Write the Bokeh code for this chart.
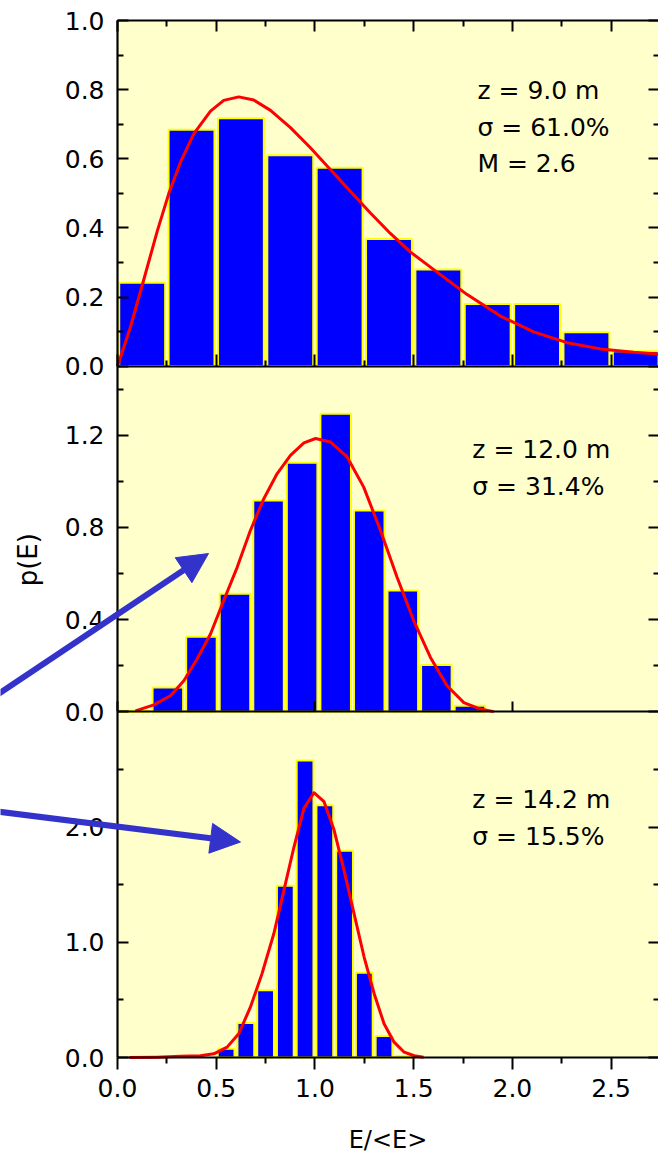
import math
from bokeh.plotting import figure
from bokeh.models import (Range1d, LinearAxis, FixedTicker, PrintfTickFormatter,
                          Label, Arrow, NormalHead, BoxAnnotation)
from bokeh.embed import file_html
from bokeh.resources import INLINE

# ---------------- data ----------------
# panel 1 : z = 9.0 m
bins1_left = [0.0, 0.25, 0.5, 0.75, 1.0, 1.25, 1.5, 1.75, 2.0, 2.25, 2.5]
bins1_height = [0.241, 0.684, 0.717, 0.61, 0.574, 0.368, 0.28, 0.18, 0.18, 0.098, 0.043]
bins1_width = 0.25
fit1_x = [0.0, 0.032, 0.066, 0.133, 0.201, 0.26, 0.319, 0.386, 0.471, 0.538, 0.614,
          0.69, 0.775, 0.876, 0.977, 1.078, 1.18, 1.281, 1.382, 1.484, 1.6, 1.771,
          1.939, 2.108, 2.277, 2.446, 2.615, 2.74]
fit1_y = [0.0, 0.055, 0.114, 0.25, 0.39, 0.5, 0.59, 0.672, 0.738, 0.769, 0.779,
          0.77, 0.74, 0.69, 0.632, 0.569, 0.505, 0.443, 0.384, 0.33, 0.28, 0.207,
          0.145, 0.099, 0.068, 0.05, 0.04, 0.035]

# panel 2 : z = 12.0 m
bins2_left = [0.0, 0.17, 0.34, 0.51, 0.68, 0.85, 1.02, 1.19, 1.36, 1.53, 1.70]
bins2_height = [0.005, 0.106, 0.326, 0.512, 0.917, 1.081, 1.294, 0.874, 0.526, 0.203, 0.026]
bins2_width = 0.17
fit2_x = [0.091, 0.184, 0.268, 0.336, 0.403, 0.471, 0.538, 0.606, 0.673, 0.741, 0.808,
          0.876, 0.944, 1.003, 1.078, 1.163, 1.247, 1.332, 1.416, 1.5, 1.585, 1.669,
          1.754, 1.838, 1.906]
fit2_y = [0.004, 0.03, 0.07, 0.135, 0.229, 0.338, 0.483, 0.627, 0.787, 0.925, 1.033,
          1.113, 1.167, 1.186, 1.171, 1.106, 0.975, 0.787, 0.584, 0.396, 0.236, 0.113,
          0.04, 0.012, 0.001]

# panel 3 : z = 14.2 m
bins3_left = [0.5, 0.6, 0.7, 0.8, 0.9, 1.0, 1.1, 1.2, 1.3, 1.4]
bins3_height = [0.076, 0.30, 0.583, 1.49, 2.577, 2.19, 1.794, 0.736, 0.186, 0.012]
bins3_width = 0.1
fit3_x = [0.06, 0.2, 0.319, 0.42, 0.488, 0.555, 0.614, 0.673, 0.732, 0.792, 0.843,
          0.894, 0.944, 0.995, 1.046, 1.097, 1.147, 1.198, 1.249, 1.3, 1.35, 1.401,
          1.452, 1.503, 1.55]
fit3_y = [0.0, 0.003, 0.01, 0.015, 0.032, 0.09, 0.206, 0.437, 0.728, 1.076, 1.452,
          1.829, 2.162, 2.298, 2.22, 1.974, 1.626, 1.249, 0.872, 0.554, 0.293, 0.133,
          0.046, 0.015, 0.003]

panel_texts = [
    ["z = 9.0 m", "\u03c3 = 61.0%", "M = 2.6"],
    ["z = 12.0 m", "\u03c3 = 31.4%"],
    ["z = 14.2 m", "\u03c3 = 15.5%"],
]

x_ticks = [0.0, 0.5, 1.0, 1.5, 2.0, 2.5]
x_minor = [0.25, 0.75, 1.25, 1.75, 2.25]
y1_ticks, y1_minor = [0.0, 0.2, 0.4, 0.6, 0.8, 1.0], [0.1, 0.3, 0.5, 0.7, 0.9]
y2_ticks, y2_minor = [0.0, 0.4, 0.8, 1.2], [0.2, 0.6, 1.0, 1.4]
y3_ticks, y3_minor = [0.0, 1.0, 2.0], [0.5, 1.5, 2.5]
panel_ymax = [1.0, 1.5, 3.0]

# ---------------- layout / styles ----------------
W, H = 658, 1152
LEFT, TOP, BOTTOM = 117, 20, 95          # pixel margins around the stacked panels
X_END = 2.74
FONT = "DejaVu Sans"
BG = "#ffffcc"
BAR_FILL = "#0000ff"
BAR_LINE = "#ffff00"
FIT = "#ff0000"
ARROW = "#3333cc"

panel_h = (H - TOP - BOTTOM) / 3.0
x_scale = (W - LEFT) / X_END
x_start = -LEFT / x_scale


def y_range_for(i):
    """Range whose 0..ymax fills panel i (0 = top) of the canvas."""
    ppu = panel_h / panel_ymax[i]
    y0_px = TOP + panel_h * (i + 1)       # pixel row of value 0 (from top)
    return Range1d(-(H - y0_px) / ppu, y0_px / ppu)


p = figure(width=W, height=H, x_range=Range1d(x_start, X_END), y_range=y_range_for(0),
           x_axis_location=None, y_axis_location=None, toolbar_location=None,
           output_backend="svg", min_border=0)
p.extra_y_ranges = {"p2": y_range_for(1), "p3": y_range_for(2)}
p.background_fill_color = "white"
p.border_fill_color = "white"
p.outline_line_color = None
p.grid.visible = False

# yellow plotting area behind the three panels
p.add_layout(BoxAnnotation(left=0, right=X_END, top=1.0, bottom=-2.0, fill_color=BG,
                           fill_alpha=1.0, line_color=None, level="underlay"))


def style_axis(ax, tin, tmin, labels=True):
    ax.axis_line_color = "black"
    ax.axis_line_width = 2.2
    ax.major_tick_in = tin
    ax.major_tick_out = 0
    ax.minor_tick_in = tmin
    ax.minor_tick_out = 0
    ax.major_tick_line_width = 2
    ax.minor_tick_line_width = 2
    ax.major_tick_line_color = "black"
    ax.minor_tick_line_color = "black"
    ax.major_label_text_font = FONT
    ax.major_label_text_font_size = "25px"
    ax.major_label_text_color = "black"
    if not labels:
        ax.major_label_overrides = {t: "" for t in ax.ticker.ticks}


# ---- bars and fits ----
panels = [
    ("default", bins1_left, bins1_height, bins1_width, 0.93, fit1_x, fit1_y),
    ("p2", bins2_left, bins2_height, bins2_width, 0.91, fit2_x, fit2_y),
    ("p3", bins3_left, bins3_height, bins3_width, 0.85, fit3_x, fit3_y),
]
for rname, left, h, bw, frac, fx, fy in panels:
    centers = [l + bw / 2 for l in left]
    p.vbar(x=centers, top=h, bottom=0, width=bw * frac, fill_color=BAR_FILL,
           line_color=BAR_LINE, line_width=2, y_range_name=rname)
    p.line(fx, fy, line_color=FIT, line_width=3, line_join="round",
           y_range_name=rname)

# ---- axes ----
specs = [
    ("default", y1_ticks, y1_minor, panel_ymax[0]),
    ("p2", y2_ticks, y2_minor, panel_ymax[1]),
    ("p3", y3_ticks, y3_minor, panel_ymax[2]),
]
for rname, yt, ym, ymax in specs:
    la = LinearAxis(y_range_name=rname, fixed_location=0.0, bounds=(0.0, ymax),
                    ticker=FixedTicker(ticks=yt, minor_ticks=ym),
                    formatter=PrintfTickFormatter(format="%.1f"))
    style_axis(la, 11, 6)
    la.major_label_standoff = 13
    p.add_layout(la, "left")

    ra = LinearAxis(y_range_name=rname, fixed_location=X_END, bounds=(0.0, ymax),
                    ticker=FixedTicker(ticks=yt, minor_ticks=ym))
    style_axis(ra, 10, 5, labels=False)
    ra.axis_line_alpha = 0
    p.add_layout(ra, "right")

# top axis of panel 1
ta = LinearAxis(fixed_location=1.0, bounds=(0.0, X_END),
                ticker=FixedTicker(ticks=x_ticks, minor_ticks=x_minor))
style_axis(ta, 11, 6, labels=False)
p.add_layout(ta, "above")

# bottom axis of panel 1
b1 = LinearAxis(fixed_location=0.0, bounds=(0.0, X_END),
                ticker=FixedTicker(ticks=x_ticks, minor_ticks=x_minor))
style_axis(b1, 12, 6, labels=False)
p.add_layout(b1, "below")

# bottom axis of panel 2
b2 = LinearAxis(y_range_name="p2", fixed_location=0.0, bounds=(0.0, X_END),
                ticker=FixedTicker(ticks=[0.0, 1.0, 2.0], minor_ticks=[]))
style_axis(b2, 10, 0, labels=False)
p.add_layout(b2, "below")

# bottom axis of panel 3 (labelled)
b3 = LinearAxis(y_range_name="p3", fixed_location=0.0, bounds=(0.0, X_END),
                ticker=FixedTicker(ticks=x_ticks, minor_ticks=x_minor),
                formatter=PrintfTickFormatter(format="%.1f"))
style_axis(b3, 0, 0)
b3.major_tick_out = 12
b3.minor_tick_out = 6
b3.major_label_standoff = 9
b3.axis_label = "E/<E>"
b3.axis_label_text_font = FONT
b3.axis_label_text_font_size = "24px"
b3.axis_label_text_font_style = "normal"
b3.axis_label_text_color = "black"
b3.axis_label_standoff = 26
p.add_layout(b3, "below")

# ---- texts ----
text_pos = [("default", 1.823, [0.797, 0.690, 0.586]),
            ("p2", 1.797, [1.138, 0.978]),
            ("p3", 1.797, [2.24, 1.92])]
for (rname, tx, tys), lines in zip(text_pos, panel_texts):
    for ty, t in zip(tys, lines):
        p.add_layout(Label(x=tx, y=ty, y_range_name=rname, text=t,
                           text_font=FONT, text_font_size="25px",
                           text_color="black", text_baseline="alphabetic"))

p.add_layout(Label(x=-0.455, y=0.66, y_range_name="p2", text="p(E)", angle=math.pi / 2,
                   text_font=FONT, text_font_size="26px", text_align="center",
                   text_baseline="middle", text_color="black"))

# ---- arrows ----
p.add_layout(Arrow(end=NormalHead(size=30, fill_color=ARROW, line_color=ARROW),
                   x_start=-0.65, y_start=0.051, x_end=0.461, y_end=0.687,
                   line_color=ARROW, line_width=6, y_range_name="p2"))
p.add_layout(Arrow(end=NormalHead(size=30, fill_color=ARROW, line_color=ARROW),
                   x_start=-0.648, y_start=2.143, x_end=0.623, y_end=1.870,
                   line_color=ARROW, line_width=6, y_range_name="p3"))

open("out.html", "w").write(file_html(p, INLINE))
